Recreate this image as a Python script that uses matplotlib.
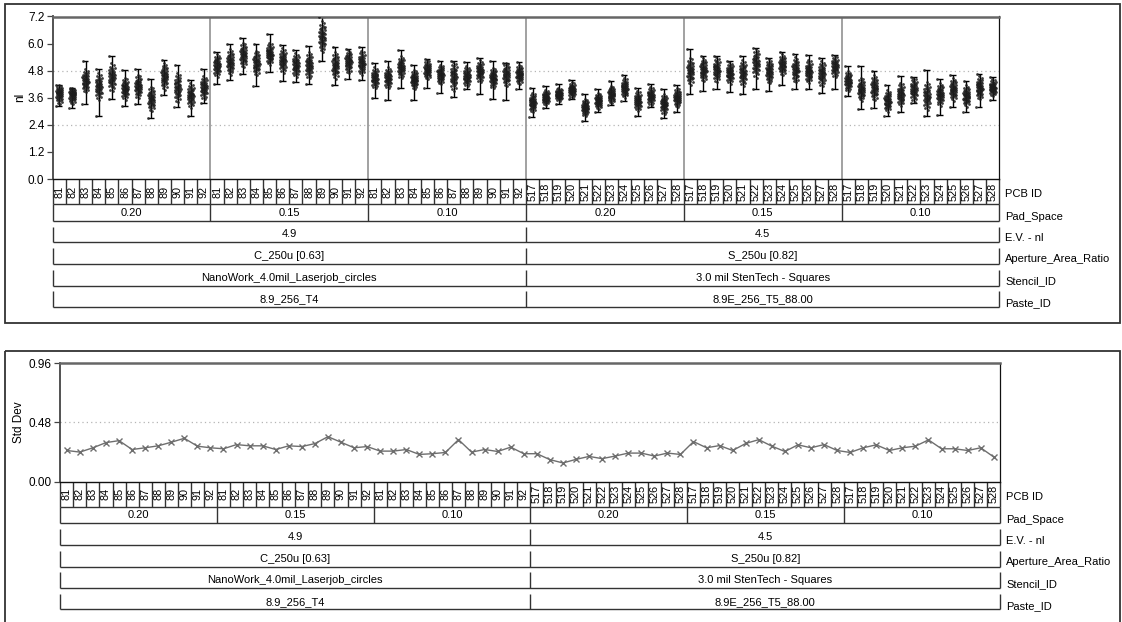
import matplotlib
matplotlib.use("Agg")
import matplotlib.pyplot as plt
from matplotlib.patches import Rectangle
from matplotlib.transforms import offset_copy
from statistics import NormalDist
import numpy as np

plt.rcParams['font.family'] = ['Liberation Sans', 'DejaVu Sans']

# ---------------------------------------------------------------- data
pcb_ids = ([81, 82, 83, 84, 85, 86, 87, 88, 89, 90, 91, 92] * 3
           + [517, 518, 519, 520, 521, 522, 523, 524, 525, 526, 527, 528] * 3)
pad_space = ["0.20", "0.15", "0.10", "0.20", "0.15", "0.10"]
ev_nl = ["4.9", "4.5"]
aperture = ["C_250u [0.63]", "S_250u [0.82]"]
stencil = ["NanoWork_4.0mil_Laserjob_circles", "3.0 mil StenTech - Squares"]
paste = ["8.9_256_T4", "8.9E_256_T5_88.00"]
level_names = ["PCB ID", "Pad_Space", "E.V. - nl", "Aperture_Area_Ratio",
               "Stencil_ID", "Paste_ID"]

nl_mean = [3.80, 3.75, 4.35, 4.10, 4.50, 4.00, 4.10, 3.55, 4.55, 4.05, 3.70, 4.05,
           5.03, 5.18, 5.50, 5.14, 5.55, 5.25, 5.05, 5.03, 6.30, 5.03, 5.20, 5.15,
           4.48, 4.48, 4.95, 4.41, 4.84, 4.63, 4.55, 4.55, 4.77, 4.48, 4.63, 4.63,
           3.39, 3.61, 3.75, 3.94, 3.17, 3.46, 3.75, 4.04, 3.46, 3.68, 3.32, 3.61,
           4.77, 4.84, 4.84, 4.70, 4.70, 5.13, 4.77, 5.06, 4.84, 4.77, 4.67, 4.99,
           4.33, 3.97, 4.04, 3.46, 3.75, 3.97, 3.68, 3.75, 3.97, 3.68, 4.04, 4.04]
nl_max = [4.16, 4.05, 5.21, 4.89, 5.43, 4.84, 4.89, 4.42, 5.28, 5.06, 4.40, 4.89,
          5.62, 5.99, 6.25, 5.99, 6.42, 5.94, 5.72, 5.88, 7.16, 5.84, 5.77, 5.84,
          5.13, 5.21, 5.72, 5.03, 5.31, 5.24, 5.24, 5.18, 5.38, 5.24, 5.16, 5.18,
          4.04, 4.12, 4.19, 4.38, 3.75, 4.00, 4.36, 4.63, 4.04, 4.19, 4.00, 4.16,
          5.75, 5.45, 5.45, 5.24, 5.45, 5.82, 5.38, 5.64, 5.53, 5.50, 5.38, 5.50,
          4.99, 5.02, 4.80, 4.15, 4.58, 4.51, 4.84, 4.45, 4.63, 4.33, 4.67, 4.51]
nl_min = [3.23, 3.16, 3.32, 2.80, 3.53, 3.23, 3.32, 2.69, 3.72, 3.20, 2.77, 3.35,
          4.23, 4.38, 4.67, 4.11, 4.74, 4.35, 4.30, 4.23, 5.25, 4.16, 4.45, 4.38,
          3.61, 3.51, 4.04, 3.51, 4.04, 3.83, 3.65, 4.00, 3.78, 3.56, 3.51, 3.97,
          2.73, 3.13, 3.32, 3.54, 2.55, 2.98, 3.27, 3.46, 2.78, 3.21, 2.69, 2.95,
          3.75, 3.90, 3.97, 3.87, 3.75, 4.00, 3.90, 4.15, 3.97, 4.00, 3.83, 3.97,
          3.68, 3.10, 3.13, 2.78, 2.95, 3.35, 2.78, 2.84, 3.21, 2.95, 3.17, 3.51]
std_dev = [0.253, 0.240, 0.275, 0.317, 0.333, 0.261, 0.275, 0.291, 0.320, 0.352, 0.288, 0.275,
           0.267, 0.301, 0.291, 0.291, 0.261, 0.291, 0.285, 0.309, 0.365, 0.320, 0.275, 0.285,
           0.248, 0.248, 0.261, 0.221, 0.227, 0.237, 0.341, 0.240, 0.261, 0.245, 0.280, 0.227,
           0.227, 0.179, 0.152, 0.181, 0.205, 0.187, 0.208, 0.232, 0.232, 0.208, 0.232, 0.221,
           0.325, 0.275, 0.293, 0.253, 0.310, 0.341, 0.288, 0.245, 0.299, 0.275, 0.301, 0.253,
           0.237, 0.275, 0.299, 0.253, 0.275, 0.288, 0.339, 0.267, 0.267, 0.253, 0.275, 0.200]

nl_ticks = [0.0, 1.2, 2.4, 3.6, 4.8, 6.0, 7.2]
sd_ticks = [0.00, 0.48, 0.96]
nl_ref = [2.4, 4.8]
sd_ref = [0.48]
points_per_board = 48

# ---------------------------------------------------------------- layout
W, H = 1122, 622
fig = plt.figure(figsize=(W / 100, H / 100), dpi=100)


def rect(x0, y0, x1, y1):
    return [x0 / W, 1 - y1 / H, (x1 - x0) / W, (y1 - y0) / H]


LINE = '#333333'
ROW_DEPTH = 128
PCB_BOT, PAD_BOT = 25, 41.6
BRACKETS = [(47.6, 63.3), (69.0, 85.0), (90.6, 106.6), (112.3, 127.6)]
NAME_Y = [15, 38.3, 59.3, 80.3, 102.3, 124]

# panel frames
bg = fig.add_axes([0, 0, 1, 1], zorder=0)
bg.set_xlim(0, W)
bg.set_ylim(H, 0)
bg.axis('off')
bg.add_patch(Rectangle((5.5, 4), 1115, 318.5, fill=False, ec=LINE, lw=1.3))
bg.add_patch(Rectangle((5.5, 351), 1115, 300, fill=False, ec=LINE, lw=1.3))


def style_axes(ax, ticks, fmt):
    ax.set_facecolor('none')
    ax.set_xlim(0, len(pcb_ids))
    ax.set_ylim(ticks[0], ticks[-1])
    ax.set_xticks([])
    ax.set_yticks(ticks)
    ax.set_yticklabels([fmt % t for t in ticks])
    ax.tick_params(axis='y', direction='out', length=4.5, width=0.9,
                   color='#444444', labelsize=8.5, pad=1.5)
    ax.spines['left'].set_color('#444444')
    ax.spines['left'].set_linewidth(1.3)
    ax.spines['top'].set_color('#666666')
    ax.spines['top'].set_linewidth(1.8)
    ax.spines['right'].set_color('#111111')
    ax.spines['right'].set_linewidth(0.9)
    ax.spines['bottom'].set_color('#111111')
    ax.spines['bottom'].set_linewidth(1.0)


def draw_levels(ax):
    n = len(pcb_ids)
    ax.set_xlim(0, n)
    ax.set_ylim(ROW_DEPTH, 0)
    ax.axis('off')
    kw = dict(colors=LINE, lw=1.0, clip_on=False)
    # PCB ID cells
    ax.vlines(np.arange(n + 1), 0, PCB_BOT, **kw)
    ax.hlines(PCB_BOT, 0, n, **kw)
    for i, pid in enumerate(pcb_ids):
        ax.text(i + 0.5, PCB_BOT / 2, str(pid), rotation=90, ha='center',
                va='center', fontsize=7.8)
    # Pad_Space cells
    gsize = n // len(pad_space)
    ax.vlines(np.arange(0, n + 1, gsize), PCB_BOT, PAD_BOT, **kw)
    ax.hlines(PAD_BOT, 0, n, **kw)
    for g, lab in enumerate(pad_space):
        ax.text(g * gsize + gsize / 2, (PCB_BOT + PAD_BOT) / 2 + 0.5, lab,
                ha='center', va='center', fontsize=8)
    # bracketed upper levels
    for (top, bot), labels in zip(BRACKETS, [ev_nl, aperture, stencil, paste]):
        half = n // len(labels)
        ax.vlines(np.arange(0, n + 1, half), top, bot, **kw)
        ax.hlines(bot, 0, n, **kw)
        for g, lab in enumerate(labels):
            ax.text(g * half + half / 2, (top + bot) / 2, lab,
                    ha='center', va='center', fontsize=8)
    # level names on the right
    tr = offset_copy(ax.transData, fig=fig, x=6, y=0, units='dots')
    for lab, y in zip(level_names, NAME_Y):
        ax.text(n, y, lab, transform=tr, ha='left', va='center', fontsize=8)


n_boards = len(pcb_ids)
centers = np.arange(n_boards) + 0.5

# ---------------------------------------------------------------- nl panel
ax1 = fig.add_axes(rect(52.7, 16.5, 999.3, 179), zorder=2)
style_axes(ax1, nl_ticks, '%.1f')
for v in nl_ref:
    ax1.axhline(v, color='#b5b5b5', lw=0.9, ls=(0, (1, 2.5)), zorder=0)
for g in range(1, len(pad_space)):
    ax1.axvline(g * n_boards // len(pad_space), color='#9a9a9a', lw=1.3, zorder=1)

# individual readings per board: normal scores scaled by the board's std dev,
# tapered so the tails end at the recorded min / max
nd = NormalDist()
k = np.arange(points_per_board)
zq = np.array([nd.inv_cdf((i + 0.5) / points_per_board) for i in k])
z_edge = zq[-2]
spread = (((k * 0.6180339887) % 1.0) - 0.5) * 0.48
xs, ys = [], []
for i in range(n_boards):
    s_up = min(std_dev[i], (nl_max[i] - nl_mean[i]) / z_edge * 0.97)
    s_lo = min(std_dev[i], (nl_mean[i] - nl_min[i]) / z_edge * 0.97)
    vals = np.where(zq >= 0, nl_mean[i] + s_up * zq, nl_mean[i] + s_lo * zq)
    vals[0], vals[-1] = nl_min[i], nl_max[i]
    xs.append(centers[i] + spread)
    ys.append(vals)
ax1.vlines(centers, nl_min, nl_max, colors='black', lw=1.0, zorder=2)
ax1.hlines(nl_min, centers - 0.22, centers + 0.22, colors='black', lw=1.0, zorder=2)
ax1.hlines(nl_max, centers - 0.22, centers + 0.22, colors='black', lw=1.0, zorder=2)
ax1.scatter(np.concatenate(xs), np.concatenate(ys), s=4.0, c='#1c1c1c',
            linewidths=0, alpha=0.85, zorder=3)

axl1 = fig.add_axes(rect(52.7, 179, 999.3, 179 + ROW_DEPTH), zorder=1)
draw_levels(axl1)
fig.text(20 / W, 1 - 97.5 / H, 'nl', rotation=90, ha='center', va='center', fontsize=8.5)

# ---------------------------------------------------------------- std dev panel
ax2 = fig.add_axes(rect(60.3, 363.3, 1000.3, 481.7), zorder=2)
style_axes(ax2, sd_ticks, '%.2f')
for v in sd_ref:
    ax2.axhline(v, color='#b5b5b5', lw=0.9, ls=(0, (1, 2.5)), zorder=0)
ax2.plot(centers, std_dev, color='#6e6e6e', lw=1.0, marker='x', ms=5,
         mew=1.0, zorder=3)

axl2 = fig.add_axes(rect(60.3, 481.7, 1000.3, 481.7 + ROW_DEPTH), zorder=1)
draw_levels(axl2)
fig.text(18.5 / W, 1 - 422 / H, 'Std Dev', rotation=90, ha='center', va='center',
         fontsize=8.5)

fig.savefig('out.png', dpi=100)
